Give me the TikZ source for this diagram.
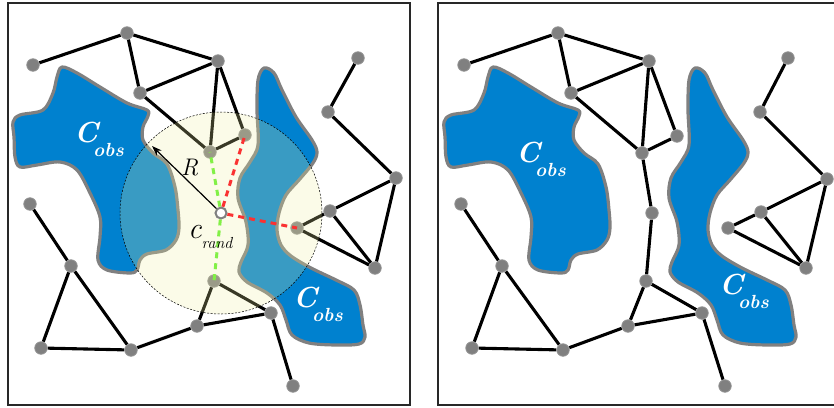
\documentclass[tikz,border=0pt]{standalone}
\usetikzlibrary{arrows.meta}
\pgfdeclarelayer{bg}
\pgfdeclarelayer{edgel}
\pgfdeclarelayer{over}
\pgfdeclarelayer{top}
\pgfsetlayers{bg,edgel,main,over,top}
\definecolor{obsblue}{RGB}{0,129,207}
\definecolor{obsline}{RGB}{128,128,128}
\definecolor{vtxgray}{RGB}{128,128,128}
\definecolor{circfill}{RGB}{240,240,160}
\definecolor{dgreen}{RGB}{130,240,70}
\definecolor{dred}{RGB}{250,50,50}
\definecolor{framec}{RGB}{40,40,40}
\tikzset{
 vtx/.style={circle, fill=vtxgray, draw=vtxgray!85!white, line width=0.8pt, minimum size=12.5pt, inner sep=0pt},
 edge/.style={line width=3.1pt, black},
 obs/.style={fill=obsblue, draw=obsline, line width=3.2pt, line join=round},
 frame/.style={draw=framec, line width=1.2pt},
 obslbl/.style={text=white, inner sep=0pt, anchor=base west},
 gdash/.style={dgreen, line width=3pt, dash pattern=on 6pt off 5pt},
 rdash/.style={dred, line width=3pt, dash pattern=on 6pt off 5pt},
 crandnode/.style={circle, fill=white, draw=vtxgray, line width=2pt, minimum size=11pt, inner sep=0pt},
}
\newcommand{\obsApts}{(62,67) (77,73) (100,87) (127,103) (147,110) (148,116) (143,127) (143,140) (153,153) (167,164) (175,187) (178,210) (179,228) (176,240) (166,250) (147,254) (140,260) (137,270) (130,273) (107,270) (98,260) (100,237) (100,217) (90,193) (77,170) (60,162) (37,165) (20,167) (15,157) (14,137) (13,122) (20,115) (43,110) (53,93) (57,77)}
\newcommand{\obsBpts}{(264,68) (274,73) (282,90) (296,117) (312,140) (317,152) (313,163) (299,180) (286,195) (279,213) (277,230) (281,245) (291,256) (311,268) (336,280) (354,290) (360,305) (363,325) (365,337) (359,344) (336,345) (309,343) (292,335) (286,320) (280,305) (267,293) (247,282) (239,272) (241,262) (248,245) (246,222) (238,198) (240,178) (250,162) (258,145) (257,110) (258,80)}
\newcommand{\cobs}{{\fontsize{29}{29}\selectfont\bfseries\itshape C\kern-5pt\raisebox{-14pt}{\fontsize{19}{19}\selectfont obs}}}
\begin{document}
\begin{tikzpicture}[x=1pt,y=-1pt]
\clip (0,0) rectangle (834,407);
% obstacles
\begin{pgfonlayer}{bg}
\fill[white] (0,0) rectangle (834,407);
\draw[obs] plot[smooth cycle, tension=0.55] coordinates {\obsApts};
\draw[obs] plot[smooth cycle, tension=0.55] coordinates {\obsBpts};
\begin{scope}[xshift=431pt]
\draw[obs] plot[smooth cycle, tension=0.55] coordinates {\obsApts};
\draw[obs] plot[smooth cycle, tension=0.55] coordinates {\obsBpts};
\end{scope}
\end{pgfonlayer}
% frames
\draw[frame] (8,3) rectangle (410,405);
\draw[frame] (845,3) -- (438,3) -- (438,405) -- (845,405);
% ---------- left panel nodes
\node[vtx] (a1) at (33,65) {};
\node[vtx] (a2) at (127,33) {};
\node[vtx] (a3) at (218,61) {};
\node[vtx] (a4) at (140,93) {};
\node[vtx] (a5) at (210,152) {};
\node[vtx] (a6) at (245,135) {};
\node[vtx] (a7) at (358,58) {};
\node[vtx] (a8) at (328,112) {};
\node[vtx] (a9) at (396,178) {};
\node[vtx] (a10) at (30,204) {};
\node[vtx] (a11) at (71,266) {};
\node[vtx] (a12) at (41,348) {};
\node[vtx] (a13) at (131,350) {};
\node[vtx] (a14) at (197,326) {};
\node[vtx] (a15) at (214,281) {};
\node[vtx] (a16) at (271,313) {};
\node[vtx] (a17) at (293,386) {};
\node[vtx] (a18) at (330,211) {};
\node[vtx] (a19) at (297,228) {};
\node[vtx] (a20) at (375,268) {};
\begin{pgfonlayer}{edgel}
\foreach \u/\v in {a1/a2,a2/a3,a2/a4,a4/a3,a3/a5,a3/a6,a4/a5,a5/a6,a7/a8,a8/a9,a9/a18,a9/a20,a18/a20,a18/a19,a19/a20,a10/a11,a11/a12,a11/a13,a12/a13,a13/a14,a14/a15,a14/a16,a15/a16,a16/a17}
  \draw[edge] (\u) -- (\v);
\end{pgfonlayer}
% ---------- right panel nodes
\begin{scope}[xshift=431pt]
\node[vtx] (b1) at (33,65) {};
\node[vtx] (b2) at (127,33) {};
\node[vtx] (b3) at (218,61) {};
\node[vtx] (b4) at (140,93) {};
\node[vtx] (b5) at (211,153) {};
\node[vtx] (b6) at (246,136) {};
\node[vtx] (b7) at (357,58) {};
\node[vtx] (b8) at (329,112) {};
\node[vtx] (b9) at (396,179) {};
\node[vtx] (b10) at (30,204) {};
\node[vtx] (b11) at (71,266) {};
\node[vtx] (b12) at (41,348) {};
\node[vtx] (b13) at (132,350) {};
\node[vtx] (b14) at (197,326) {};
\node[vtx] (b15) at (215,281) {};
\node[vtx] (b16) at (271,313) {};
\node[vtx] (b17) at (294,386) {};
\node[vtx] (b18) at (330,212) {};
\node[vtx] (b19) at (297,228) {};
\node[vtx] (b20) at (375,268) {};
\node[vtx] (b21) at (221,213) {};
\end{scope}
\begin{pgfonlayer}{edgel}
\foreach \u/\v in {b1/b2,b2/b3,b2/b4,b4/b3,b3/b5,b3/b6,b4/b5,b5/b6,b5/b21,b21/b15,b7/b8,b8/b9,b9/b18,b9/b20,b18/b20,b18/b19,b19/b20,b10/b11,b11/b12,b11/b13,b12/b13,b13/b14,b14/b15,b14/b16,b15/b16,b16/b17}
  \draw[edge] (\u) -- (\v);
\end{pgfonlayer}
% ---------- sampling circle
\begin{pgfonlayer}{over}
\fill[circfill, opacity=0.24] (221,213) circle[radius=101pt];
\draw[black, line width=0.5pt, dash pattern=on 2pt off 1.5pt] (221,213) circle[radius=101pt];
\end{pgfonlayer}
\begin{pgfonlayer}{top}
\node[crandnode] (crand) at (221,213) {};
\coordinate (rtip) at (152,146);
\draw[gdash] (crand) -- (a5.center);
\draw[gdash] (crand) -- (a15.center);
\draw[rdash] (crand) -- (a6.center);
\draw[rdash] (crand) -- (a19.center);
\draw[line width=1.2pt, -{Stealth[length=10pt,width=7pt]}] (crand) -- (rtip);
\node[inner sep=0pt, anchor=base west] (rlbl) at (181,175) {\fontsize{24}{24}\selectfont\itshape R};
\node[inner sep=0pt, anchor=base west] (crlbl) at (188,238) {\fontsize{30}{30}\selectfont\itshape c\kern0pt\raisebox{-10pt}{\fontsize{16}{16}\selectfont rand}};
\node[obslbl] (l1) at (74,142) {\cobs};
\node[obslbl] (l2) at (293,307) {\cobs};
\node[obslbl] (l3) at (516,162) {\cobs};
\node[obslbl] (l4) at (719,294) {\cobs};
\end{pgfonlayer}
\end{tikzpicture}
\end{document}
